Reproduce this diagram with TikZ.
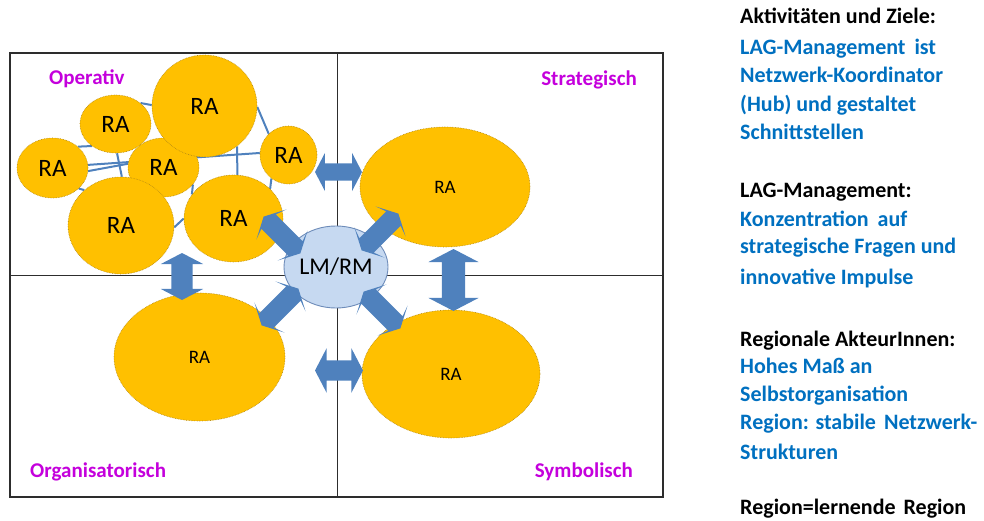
\documentclass[tikz,border=0pt]{standalone}
\usepackage{fontspec}
\setmainfont{Carlito}
\usetikzlibrary{shapes.geometric,shapes.arrows}
\pgfdeclarelayer{bg}
\pgfsetlayers{bg,main}

\definecolor{ragold}{RGB}{255,192,0}
\definecolor{raedge}{RGB}{176,134,20}
\definecolor{linkblue}{RGB}{79,129,189}
\definecolor{hubfill}{RGB}{198,217,241}
\definecolor{hubedge}{RGB}{110,140,185}
\definecolor{txtblue}{RGB}{0,112,192}
\definecolor{quadmag}{RGB}{196,0,220}
\definecolor{framegray}{RGB}{45,45,45}

\tikzset{
  ra/.style={ellipse, fill=ragold, draw=raedge, line width=0.6pt, densely dotted,
             inner sep=0pt, text=black},
  raop/.style={ra, font=\fontsize{25}{30}\selectfont},
  raqd/.style={ra, font=\fontsize{19}{23}\selectfont},
  hub/.style={ellipse, fill=hubfill, draw=hubedge, line width=0.9pt, inner sep=0pt,
              font=\fontsize{24}{28}\selectfont},
  link/.style={draw=linkblue, line width=2pt},
  dbl/.style={double arrow, fill=linkblue, draw=none, inner xsep=0pt,
              text height=0pt, text depth=0pt, double arrow tip angle=125},
  quad/.style={font=\bfseries\fontsize{21}{25}\selectfont, text=quadmag, inner sep=0pt},
  note/.style={anchor=base west, inner sep=0pt, font=\bfseries\fontsize{22}{26}\selectfont},
  notehead/.style={note, text=black},
  notebody/.style={note, text=txtblue},
}

\begin{document}
\begin{tikzpicture}[x=1pt,y=-1pt]
\useasboundingbox (0,0) rectangle (984,521);

% quadrant frame
\begin{pgfonlayer}{bg}
  \draw[framegray, line width=1.2pt] (10,53) rectangle (663,497);
  \draw[framegray, line width=1pt] (337,53) -- (337,497);
  \draw[framegray, line width=1pt] (10,275) -- (663,275);
\end{pgfonlayer}

% operative cluster of regional actors
\node[raop, minimum width=71pt, minimum height=58pt] (TL) at (115.5,124) {RA};
\node[raop, minimum width=71pt, minimum height=60pt] (L)  at (52.5,168) {RA};
\node[raop, minimum width=71pt, minimum height=59pt] (C)  at (163.5,167.5) {RA};
\node[raop, minimum width=105pt, minimum height=102pt] (T) at (204.5,106) {RA};
\node[raop, minimum width=57pt, minimum height=58pt] (RS) at (288.5,155) {RA};
\node[raop, minimum width=106pt, minimum height=97pt] (B)  at (121,225.5) {RA};
\node[raop, minimum width=99pt, minimum height=87pt] (BR) at (233.5,218.5) {RA};

% network links inside the operative cluster
\begin{pgfonlayer}{bg}
  \draw[link] (L.5) -- (RS.176);
  \draw[link] (L.-5) -- (C.174);
  \draw[link] (L.40) -- (TL.223);
  \draw[link] (L.-38) -- (B.136);
  \draw[link] (TL.-87) -- (B.89);
  \draw[link] (TL.40) -- (T.179);
  \draw[link] (T.-1) -- (RS.133);
  \draw[link] (T.-51) -- (BR.85);
  \draw[link] (RS.-126) -- (BR.39);
  \draw[link] (B.-2) -- (BR.180);
  \draw[link] (C.-30) -- (BR.150);
\end{pgfonlayer}

% regional actors of the other quadrants
\node[raqd, minimum width=170pt, minimum height=120pt] (SR) at (445,187) {RA};
\node[raqd, minimum width=171pt, minimum height=128pt] (OR) at (199.5,357) {RA};
\node[raqd, minimum width=178pt, minimum height=128pt] (SY) at (451,374) {RA};

% central management
\node[hub, minimum width=104pt, minimum height=82pt] (hub) at (336,267) {LM/RM};

% exchange arrows
\node[dbl, minimum height=47pt, inner ysep=8.5pt, double arrow head extend=10.5pt, minimum width=38pt] (a1) at (338.5,172) {};
\node[dbl, minimum height=48pt, inner ysep=10pt, double arrow head extend=12pt, minimum width=44pt] (a2) at (339,370.5) {};
\node[dbl, rotate=90, minimum height=47pt, inner ysep=10.5pt, double arrow head extend=10.5pt, minimum width=42pt] (a3) at (182,276.5) {};
\node[dbl, rotate=90, minimum height=62pt, inner ysep=11.5pt, double arrow head extend=13.5pt, minimum width=50pt] (a4) at (453.5,280) {};
\tikzset{diag/.style={dbl, minimum height=52pt, inner ysep=10pt, double arrow head extend=11pt, minimum width=42pt, double arrow head indent=4pt}}
\node[diag, rotate=-45] (a5) at (282,235) {};
\node[diag, rotate=45]  (a6) at (380,232) {};
\node[diag, rotate=45]  (a7) at (280,307) {};
\node[diag, rotate=-45] (a8) at (382,310) {};

% quadrant titles
\node[quad, anchor=west] (q1) at (49,79) {Operativ};
\node[quad, anchor=east] (q2) at (637,80) {Strategisch};
\node[quad, anchor=west] (q3) at (30,472) {Organisatorisch};
\node[quad, anchor=east] (q4) at (633,472) {Symbolisch};

% explanations
\node[notehead] (n1)  at (740,24)  {Aktivitäten und Ziele:};
\node[notebody] (n2)  at (740,55)  {LAG-Management\hspace{4pt} ist};
\node[notebody] (n3)  at (740,83)  {Netzwerk-Koordinator};
\node[notebody] (n4)  at (740,112) {(Hub) und gestaltet};
\node[notebody] (n5)  at (740,140) {Schnittstellen};
\node[notehead] (n6)  at (740,198) {LAG-Management:};
\node[notebody] (n7)  at (740,226) {Konzentration\hspace{4pt} auf};
\node[notebody] (n8)  at (740,254) {strategische Fragen und};
\node[notebody] (n9)  at (740,284) {innovative Impulse};
\node[notehead] (n10) at (740,346) {Regionale AkteurInnen:};
\node[notebody] (n11) at (740,373) {Hohes Maß an};
\node[notebody] (n12) at (740,401) {Selbstorganisation};
\node[notebody] (n13) at (740,429) {Region: stabile\hspace{3pt} Netzwerk-};
\node[notebody] (n14) at (740,459) {Strukturen};
\node[notehead] (n15) at (740,514) {Region=lernende\hspace{3pt} Region};
\end{tikzpicture}
\end{document}
